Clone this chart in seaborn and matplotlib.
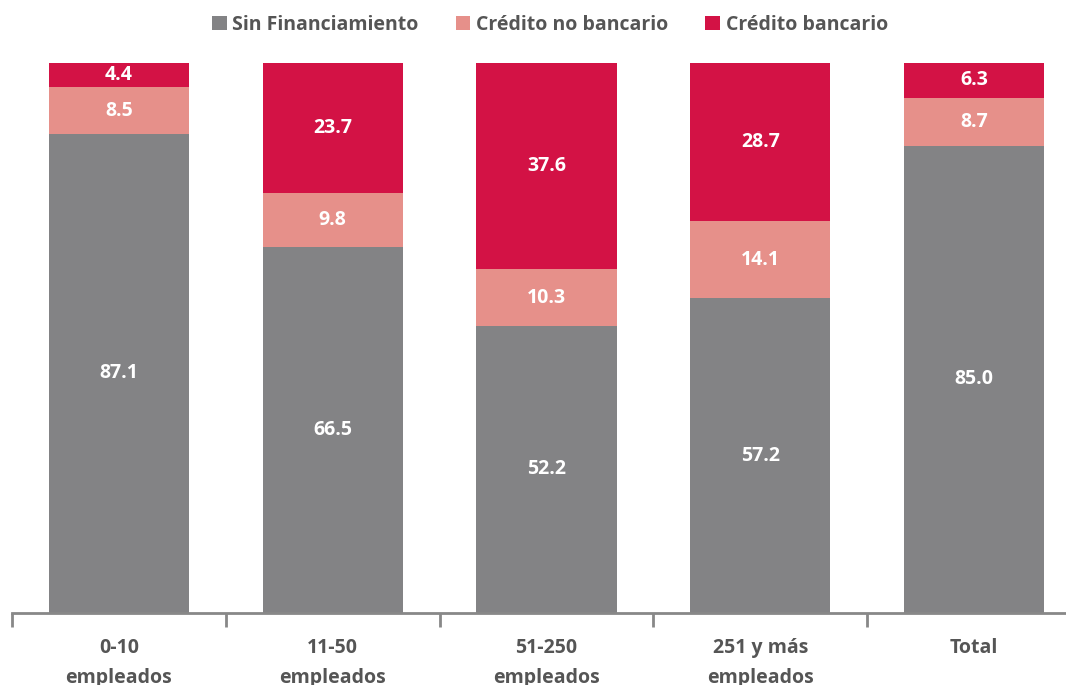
import matplotlib
matplotlib.use("Agg")
import matplotlib.pyplot as plt
import seaborn as sns
import pandas as pd
import numpy as np

categories = ["0-10\nempleados", "11-50\nempleados", "51-250\nempleados", "251 y más\nempleados", "Total"]
sin_financiamiento = [87.1, 66.5, 52.2, 57.2, 85.0]
credito_no_bancario = [8.5, 9.8, 10.3, 14.1, 8.7]
credito_bancario = [4.4, 23.7, 37.6, 28.7, 6.3]
series_names = ["Sin Financiamiento", "Crédito no bancario", "Crédito bancario"]
colors = ["#838385", "#E6908A", "#D31245"]

sns.set_theme(style="white")
plt.rcParams['font.family'] = ['Open Sans', 'DejaVu Sans']
plt.rcParams['xtick.bottom'] = True

fig = plt.figure(figsize=(10.66, 6.85), dpi=100)
ax = fig.add_axes([12/1066, 72/685, 1069/1066, 550/685])

series = [sin_financiamiento, credito_no_bancario, credito_bancario]
bottom = np.zeros(len(categories))
for name, vals, col in zip(series_names, series, colors):
    df = pd.DataFrame({"cat": categories, "val": vals})
    sns.barplot(data=df, x="cat", y="val", color=col, width=0.655, bottom=bottom,
                ax=ax, label=name, saturation=1, linewidth=0)
    for i, v in enumerate(vals):
        ax.text(i, bottom[i] + v / 2, f"{v:.1f}", ha="center", va="center",
                color="white", fontsize=14, fontweight="bold")
    bottom = bottom + np.array(vals)

handles, labels = ax.get_legend_handles_labels()
if ax.get_legend() is not None:
    ax.get_legend().remove()

ax.set_xlim(-0.5, 4.5)
ax.set_ylim(0, 100)
ax.set_xlabel("")
ax.set_ylabel("")
ax.set_yticks([])
for s in ["top", "right", "left"]:
    ax.spines[s].set_visible(False)
ax.spines["bottom"].set_color("#888888")
ax.spines["bottom"].set_linewidth(2)
ax.set_xticks(range(len(categories)))
ax.set_xticklabels(categories, fontsize=14, fontweight="bold", color="#555555", linespacing=1.7)
ax.tick_params(axis="x", which="major", length=0, pad=18)
ax.set_xticks([-0.5, 0.5, 1.5, 2.5, 3.5], minor=True)
ax.tick_params(axis="x", which="minor", bottom=True, length=10, width=2, color="#888888", direction="out")

leg = fig.legend(handles, labels, loc="center", bbox_to_anchor=(550/1066, 1 - 25/685), ncol=3,
                 frameon=False, handlelength=0.75, handleheight=0.75, handletextpad=0.3,
                 columnspacing=1.9, prop={"size": 14, "weight": "bold"})
for t in leg.get_texts():
    t.set_color("#555555")

fig.savefig("out.png", dpi=100)
